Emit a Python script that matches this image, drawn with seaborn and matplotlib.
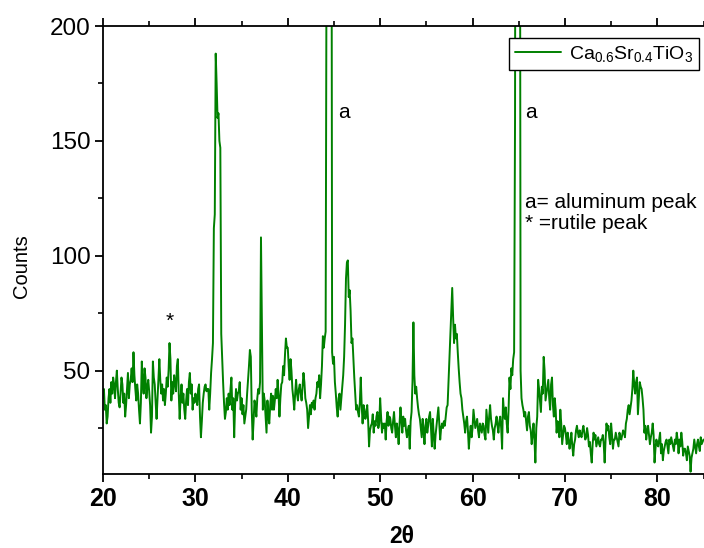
import numpy as np
import pandas as pd
import matplotlib
matplotlib.use("Agg")
import matplotlib.pyplot as plt
import seaborn as sns
from matplotlib.ticker import MultipleLocator

# XRD pattern, 20..85 deg in 0.1 deg steps (one row per degree)
counts = [
    38, 42, 33, 35, 27, 30, 38, 42, 36, 45,        # 20
    40, 47, 44, 38, 45, 50, 42, 36, 34, 40,        # 21
    47, 44, 36, 40, 30, 35, 42, 49, 38, 44,        # 22
    46, 51, 45, 58, 48, 42, 37, 44, 40, 33,        # 23
    27, 36, 54, 45, 40, 51, 47, 38, 43, 46,        # 24
    41, 35, 23, 30, 54, 47, 44, 36, 29, 38,        # 25
    48, 55, 46, 40, 44, 37, 42, 35, 40, 47,        # 26
    43, 50, 62, 55, 37, 45, 40, 48, 45, 41,        # 27
    52, 55, 40, 29, 38, 44, 36, 40, 33, 29,        # 28
    37, 42, 35, 45, 49, 40, 44, 33, 38, 36,        # 29
    40, 38, 35, 42, 44, 30, 21, 28, 36, 40,        # 30
    43, 44, 41, 42, 42, 33, 40, 49, 55, 62,        # 31
    112, 118, 188, 175, 160, 162, 150, 147, 66, 55, # 32
    45, 36, 29, 32, 38, 33, 40, 35, 42, 47,        # 33
    33, 38, 21, 35, 42, 37, 40, 41, 45, 33,        # 34
    38, 31, 35, 27, 30, 33, 40, 46, 52, 59,        # 35
    56, 33, 20, 28, 37, 34, 30, 38, 42, 40,        # 36
    45, 108, 70, 33, 40, 37, 30, 23, 37, 30,       # 37
    27, 35, 40, 33, 39, 33, 37, 42, 38, 46,        # 38
    40, 30, 38, 44, 45, 52, 48, 57, 64, 60,        # 39
    60, 52, 46, 55, 50, 42, 38, 33, 40, 46,        # 40
    40, 37, 42, 44, 40, 37, 43, 49, 45, 38,        # 41
    36, 33, 25, 30, 35, 31, 36, 34, 37, 33,        # 42
    38, 40, 45, 43, 48, 38, 44, 52, 65, 60,        # 43
    64, 67, 240, 420, 600, 560, 480, 400, 58, 53,  # 44
    56, 45, 40, 34, 30, 38, 40, 33, 38, 43,        # 45
    48, 56, 70, 90, 97, 98, 82, 85, 76, 62,        # 46
    64, 55, 47, 40, 33, 35, 32, 30, 36, 47,        # 47
    35, 27, 35, 33, 29, 31, 35, 28, 17, 24,        # 48
    26, 27, 31, 23, 28, 26, 30, 32, 25, 27,        # 49
    38, 30, 23, 27, 25, 27, 20, 28, 32, 26,        # 50
    30, 29, 25, 23, 28, 32, 26, 21, 27, 24,        # 51
    18, 27, 34, 28, 23, 30, 26, 29, 24, 21,        # 52
    24, 26, 16, 28, 32, 45, 71, 48, 40, 43,        # 53
    38, 34, 31, 29, 25, 21, 29, 24, 18, 26,        # 54
    29, 23, 26, 30, 32, 25, 17, 29, 22, 16,        # 55
    22, 26, 30, 34, 27, 20, 25, 27, 25, 28,        # 56
    26, 30, 34, 35, 45, 55, 66, 75, 86, 73,        # 57
    62, 70, 64, 66, 58, 51, 45, 40, 38, 33,        # 58
    30, 27, 23, 28, 30, 24, 16, 22, 26, 21,        # 59
    25, 33, 29, 25, 27, 29, 24, 21, 27, 25,        # 60
    23, 27, 26, 22, 20, 33, 28, 23, 30, 35,        # 61
    29, 26, 24, 20, 25, 27, 30, 26, 23, 28,        # 62
    30, 25, 16, 38, 32, 29, 34, 27, 23, 33,        # 63
    47, 42, 51, 48, 55, 58, 160, 500, 800, 900,    # 64
    700, 400, 50, 38, 35, 33, 30, 32, 28, 24,      # 65
    30, 32, 26, 24, 18, 22, 27, 20, 10, 25,        # 66
    30, 46, 42, 37, 32, 43, 40, 56, 50, 37,        # 67
    40, 43, 46, 38, 33, 44, 47, 35, 30, 38,        # 68
    33, 23, 28, 26, 21, 33, 27, 18, 22, 26,        # 69
    25, 22, 18, 23, 20, 16, 19, 23, 17, 13,        # 70
    18, 20, 24, 26, 23, 21, 24, 22, 21, 24,        # 71
    26, 23, 20, 21, 25, 22, 17, 19, 14, 10,        # 72
    18, 23, 20, 22, 17, 19, 21, 18, 17, 20,        # 73
    20, 22, 18, 10, 20, 27, 24, 26, 21, 18,        # 74
    27, 22, 16, 20, 20, 23, 21, 19, 17, 23,        # 75
    21, 20, 22, 24, 23, 21, 27, 29, 33, 35,        # 76
    31, 34, 37, 42, 50, 44, 40, 45, 47, 31,        # 77
    38, 45, 43, 42, 38, 33, 23, 26, 20, 24,        # 78
    26, 22, 18, 21, 23, 27, 22, 10, 16, 20,        # 79
    18, 17, 20, 23, 14, 18, 11, 15, 17, 19,        # 80
    20, 17, 14, 20, 18, 21, 19, 17, 15, 20,        # 81
    18, 23, 20, 14, 20, 17, 23, 19, 13, 16,        # 82
    16, 14, 11, 17, 15, 13, 6, 12, 14, 16,         # 83
    20, 17, 14, 18, 20, 17, 15, 21, 18, 19,        # 84
    20,                                            # 85
]
two_theta = np.round(np.linspace(20.0, 85.0, len(counts)), 1)

series_label = r'Ca$_{0.6}$Sr$_{0.4}$TiO$_{3}$'
x_ticks = [20, 30, 40, 50, 60, 70, 80]
y_ticks = [50, 100, 150, 200]

df = pd.DataFrame({"two_theta": two_theta, "counts": counts})

sns.set_style("ticks")
plt.rcParams['font.family'] = ['Liberation Sans', 'DejaVu Sans']
plt.rcParams['mathtext.fontset'] = 'custom'
plt.rcParams['mathtext.rm'] = 'Liberation Sans'
plt.rcParams['mathtext.default'] = 'regular'
for k in ['text.color', 'axes.labelcolor', 'xtick.color', 'ytick.color', 'axes.edgecolor']:
    plt.rcParams[k] = 'black'

fig = plt.figure(figsize=(7.04, 5.48), dpi=100)
ax = fig.add_axes([0.1463, 0.135, 0.853, 0.8175])

sns.lineplot(data=df, x="two_theta", y="counts", color="#008000", lw=1.4,
             label=series_label, ax=ax)

ax.set_xlim(20, 85)
ax.set_ylim(5, 200)
ax.set_xticks(x_ticks)
ax.set_yticks(y_ticks)
ax.xaxis.set_minor_locator(MultipleLocator(5))
ax.yaxis.set_minor_locator(MultipleLocator(25))
ax.tick_params(axis="both", which="major", direction="out", length=6, width=1.3, color="black")
ax.tick_params(axis="both", which="minor", direction="out", length=3.5, width=1.2, color="black")
ax.tick_params(axis="x", which="both", top=True)
ax.tick_params(axis="y", labelsize=17.5, pad=3)
for lab in ax.get_xticklabels():
    lab.set_fontfamily(['Liberation Sans Narrow', 'Liberation Sans'])
    lab.set_fontweight('bold')
    lab.set_fontsize(18)
for sp in ["left", "bottom", "top"]:
    ax.spines[sp].set_linewidth(1.3)
    ax.spines[sp].set_color("black")
ax.spines["right"].set_visible(False)

ax.set_xlabel("2θ", fontsize=16.5, fontweight="bold")
ax.xaxis.set_label_coords(0.497, -0.113)
ax.set_ylabel("Counts", fontsize=14.5)
ax.yaxis.set_label_coords(-0.12, 0.465)

# annotations
ax.text(27.2, 69, "*", fontsize=15, ha="center", va="baseline")
ax.text(45.45, 160, "a", fontsize=15, ha="left", va="baseline")
ax.text(65.7, 160, "a", fontsize=15, ha="left", va="baseline")
ax.text(65.7, 121, "a= aluminum peak", fontsize=15, ha="left", va="baseline")
ax.text(65.7, 111.5, "* =rutile peak", fontsize=15, ha="left", va="baseline")

leg = ax.legend(loc="upper right", bbox_to_anchor=(0.993, 0.973), borderaxespad=0,
                fontsize=14, frameon=True, fancybox=False, handlelength=2.4,
                borderpad=0.3, handletextpad=0.4)
leg.get_frame().set_edgecolor("black")
leg.get_frame().set_linewidth(1.0)
leg.get_frame().set_alpha(1)

fig.savefig("out.png", dpi=100)
